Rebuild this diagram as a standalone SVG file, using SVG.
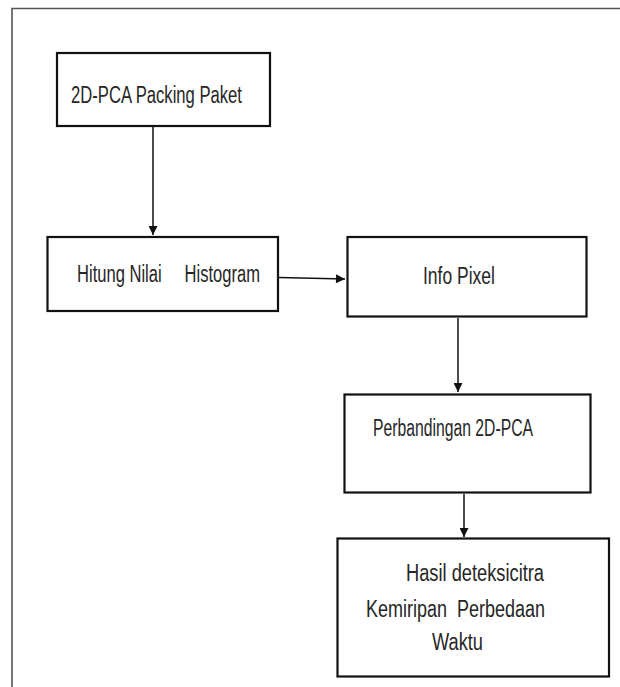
<svg xmlns="http://www.w3.org/2000/svg" width="620" height="687" viewBox="0 0 620 687">
  <style>
    .frame { fill: none; stroke: #555; stroke-width: 1.6; }
    .box { fill: #fff; stroke: #111; stroke-width: 2.2; }
    .lbl { font-family: "Liberation Sans", Arial, sans-serif; font-size: 23.5px; fill: #262626; }
    .link { fill: none; stroke: #111; stroke-width: 1.5; }
  </style>
  <defs>
    <marker id="arrow" viewBox="0 0 10 10" refX="10" refY="5" markerWidth="10" markerHeight="9" markerUnits="userSpaceOnUse" orient="auto">
      <path d="M0,0 L10,5 L0,10 z" fill="#111"/>
    </marker>
  </defs>
  <rect width="620" height="687" fill="#fff"/>
  <path class="frame" d="M12,687 V8.5 H620"/>

  <g id="connectors">
    <line class="link" x1="153" y1="127" x2="153" y2="235" marker-end="url(#arrow)"/>
    <line class="link" x1="279" y1="277.5" x2="345" y2="279" marker-end="url(#arrow)"/>
    <line class="link" x1="458" y1="318" x2="458" y2="392" marker-end="url(#arrow)"/>
    <line class="link" x1="464" y1="494" x2="464" y2="537" marker-end="url(#arrow)"/>
  </g>

  <g id="packing">
    <rect class="box" x="57" y="53" width="213" height="73"/>
    <text class="lbl" x="71" y="103" textLength="171" lengthAdjust="spacingAndGlyphs">2D-PCA Packing Paket</text>
  </g>

  <g id="histogram">
    <rect class="box" x="47.5" y="237" width="230.5" height="74"/>
    <text class="lbl" xml:space="preserve" x="77" y="282" textLength="183" lengthAdjust="spacingAndGlyphs">Hitung Nilai     Histogram</text>
  </g>

  <g id="pixel">
    <rect class="box" x="347.5" y="237" width="239" height="79.5"/>
    <text class="lbl" x="423" y="283.5" textLength="72" lengthAdjust="spacingAndGlyphs">Info Pixel</text>
  </g>

  <g id="compare">
    <rect class="box" x="344.5" y="394.5" width="246" height="98"/>
    <text class="lbl" x="373" y="436" textLength="160" lengthAdjust="spacingAndGlyphs">Perbandingan 2D-PCA</text>
  </g>

  <g id="result">
    <rect class="box" x="337.5" y="538.5" width="271.5" height="138"/>
    <text class="lbl" x="406" y="581" textLength="138" lengthAdjust="spacingAndGlyphs">Hasil deteksicitra</text>
    <text class="lbl" xml:space="preserve" x="366" y="617" textLength="179" lengthAdjust="spacingAndGlyphs">Kemiripan  Perbedaan</text>
    <text class="lbl" x="432" y="649.5" textLength="51" lengthAdjust="spacingAndGlyphs">Waktu</text>
  </g>
</svg>
